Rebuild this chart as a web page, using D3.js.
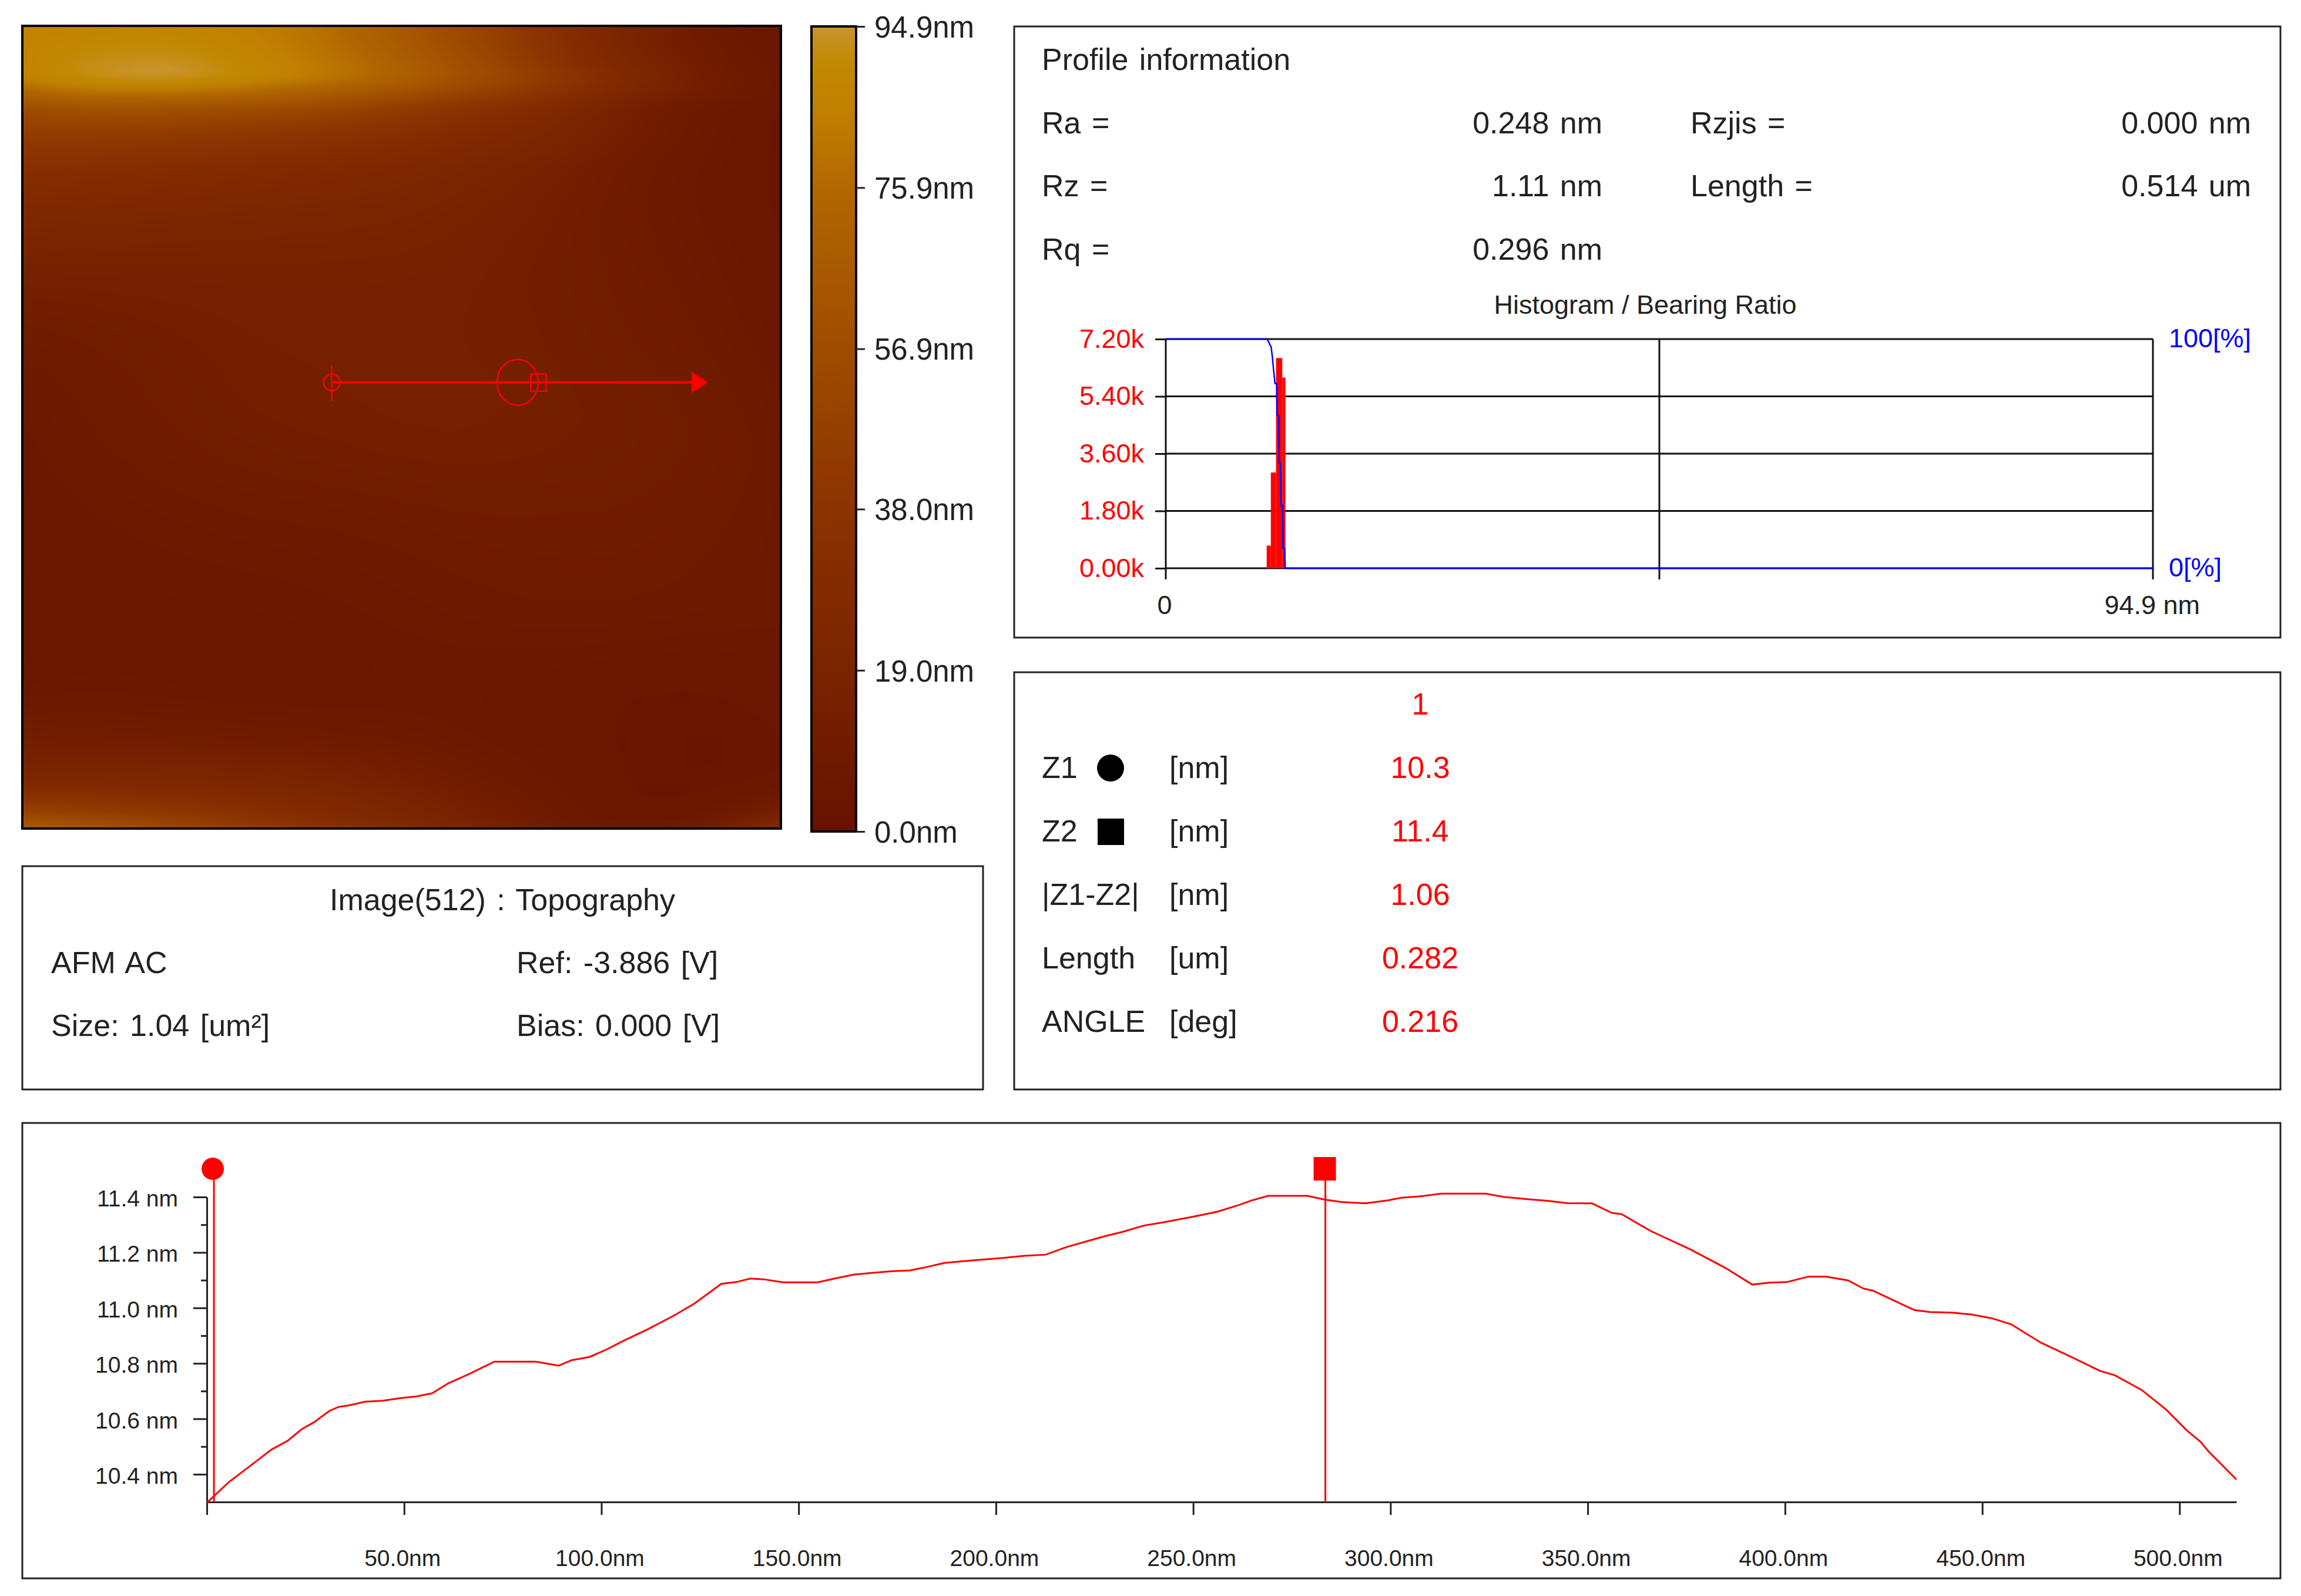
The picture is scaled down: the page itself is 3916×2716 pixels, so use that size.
<!DOCTYPE html>
<html>
<head>
<meta charset="utf-8">
<script src="https://cdn.jsdelivr.net/npm/d3@7"></script>
<style>
  body { margin: 0; background: #fff; }
  svg { display: block; }
  text { font-family: "Liberation Sans", Arial, sans-serif; }
</style>
</head>
<body>
<div id="vis"></div>
<script>
// colour bar: height in nm and the colour read at that height
const COLOR_NM = [0, 8, 19, 38, 56.9, 75.9, 85, 90, 93.5, 94.9];
const COLOR_HEX = ["#661200", "#6e1a00", "#7a2400", "#8c3300", "#a04c00", "#b26800", "#c08000", "#c28800", "#c68f1c", "#c9962e"];
const COLOR_TICKS = [0, 19, 38, 56.9, 75.9, 94.9];

// topography, read by eye: position along the scan and across it in nm, height in nm
const TOPO_X = [0, 103, 205, 308, 410, 513, 615, 718, 820, 922, 1020];
const TOPO_Y = [0, 22, 45, 63, 82, 104, 134, 179, 239, 313, 418, 522, 634, 746, 836, 910, 963, 1000, 1020];
const TOPO_Z = [
  [86, 88, 88, 85, 79, 65, 50, 33, 17, 8, 3],
  [88, 90, 91, 86, 80, 66, 52, 34, 18, 9, 4],
  [88, 93, 95, 88, 82, 70, 55, 37, 20, 10, 5],
  [88, 95, 97, 91, 84, 72, 58, 42, 24, 11, 6],
  [76, 84, 84, 78, 71, 62, 50, 39, 22, 12, 6],
  [57, 61, 59, 57, 53, 44, 34, 25, 12, 7, 3],
  [46, 46, 44, 42, 38, 33, 28, 22, 13, 7, 3],
  [33, 32, 30, 28, 26, 24, 19, 15, 9, 6, 3],
  [24, 23, 22, 21, 20, 19, 16, 13, 9, 6, 3],
  [15, 15, 15, 15, 15, 15, 14, 12, 10, 7, 4],
  [8, 10, 12, 14, 14, 14, 14, 13, 11, 9, 5],
  [6, 9, 11, 13, 14, 15, 15, 14, 13, 11, 8],
  [5, 6, 7, 8, 8, 9, 10, 10, 10, 9, 7],
  [4, 5, 5, 5, 6, 7, 8, 9, 9, 8, 7],
  [4, 5, 4, 4, 4, 5, 5, 4, 3, 3, 5],
  [12, 12, 11, 10, 9, 8, 6, 5, 3, 2, 3],
  [22, 23, 23, 21, 19, 15, 10, 6, 3, 2, 3],
  [52, 48, 42, 34, 27, 21, 14, 8, 3, 5, 14],
  [68, 60, 52, 44, 35, 26, 18, 10, 4, 10, 28]
];

// scan line drawn over the image, in image nm
const SCAN_START = 416;
const SCAN_END = 922;
const SCAN_Y = 453;
const SCAN_CIRCLE = 666;
const SCAN_SQUARE = 694;

// histogram bins
const HIST_FROM = [9.7, 10.1, 10.6, 11.2];
const HIST_TO = [10.1, 10.6, 11.2, 11.5];
const HIST_COUNT = [712, 3007, 6603, 5991];
const HIST_TICKS = [0, 1800, 3600, 5400, 7200];
const HIST_MAX_NM = 94.9;

// bearing ratio curve
const BEAR_NM = [0, 9.75, 9.9, 10.13, 10.24, 10.36, 10.5, 10.66, 10.7, 10.85, 10.9, 11.03, 11.08, 11.23, 11.26, 11.43, 11.48, 94.9];
const BEAR_PCT = [100, 100, 98.6, 96.5, 92.5, 86.7, 80.6, 80.6, 66.7, 66.7, 46, 46, 27.4, 27.4, 8.8, 8.8, 0, 0];

// line profile
const PROFILE_NM = [0.06, 5.6, 11.8, 16.5, 20.5, 24.1, 27.2, 31, 33.4, 35.9, 40.2, 44.5, 48.8, 53.2, 57.1, 61.2, 66.1, 72.9, 83.4, 89.2, 92.6, 97, 101.3, 105.7, 111.9, 118.6, 123.6, 130.4, 134.1, 137.8,
  141.2, 146.1, 154.8, 159.1, 164, 168.4, 173.3, 178.2, 182, 186.9, 191.2, 196.2, 201.7, 207.3, 212.6, 217.8, 222.7, 227.7, 232, 237.5, 242.5, 247.4, 252.4, 256.1, 261.6, 264.7, 269, 278.9, 283.2, 287.5, 293.7, 299.3, 303, 307.3, 312.9, 324, 328.9,
  334.8, 339.8, 344.8, 351.1, 356, 358.6, 366, 376, 384.8, 391.7, 396, 400.4, 406, 410.4, 416, 419.8, 422.3, 431, 432.9, 436.7, 442.3, 447.3, 452.3, 457.3, 464.8, 472.3, 479.8, 483.6, 490.4, 496.7, 501.7, 505.4, 507.3, 514.4];
const PROFILE_Z = [10.298, 10.372, 10.439, 10.49, 10.521, 10.563, 10.588, 10.628, 10.643, 10.648, 10.662, 10.665, 10.674, 10.681, 10.692, 10.728, 10.759, 10.806, 10.806, 10.792, 10.812, 10.823, 10.85, 10.882, 10.924, 10.974, 11.016, 11.087, 11.093, 11.106,
  11.103, 11.092, 11.092, 11.106, 11.12, 11.126, 11.132, 11.135, 11.146, 11.162, 11.168, 11.174, 11.18, 11.188, 11.192, 11.219, 11.239, 11.259, 11.274, 11.297, 11.309, 11.322, 11.336, 11.347, 11.371, 11.387, 11.404, 11.404, 11.391, 11.382, 11.377, 11.388, 11.398, 11.402, 11.412, 11.412, 11.4,
  11.392, 11.386, 11.378, 11.377, 11.343, 11.338, 11.277, 11.211, 11.145, 11.084, 11.091, 11.093, 11.113, 11.113, 11.099, 11.07, 11.062, 11.004, 10.992, 10.985, 10.983, 10.976, 10.963, 10.941, 10.875, 10.825, 10.773, 10.757, 10.704, 10.632, 10.56, 10.516, 10.483, 10.381];
const PROFILE_X_TICKS = [50, 100, 150, 200, 250, 300, 350, 400, 450, 500];
const PROFILE_Y_TICKS = [10.4, 10.6, 10.8, 11.0, 11.2, 11.4];
const PROFILE_Y_MINOR = [10.5, 10.7, 10.9, 11.1, 11.3];
const Z1_NM = 1.8;
const Z2_NM = 283.5;

// texts
const STAT_LABELS = ["Ra =", "Rz =", "Rq ="];
const STAT_VALUES = ["0.248 nm", "1.11 nm", "0.296 nm"];
const STAT2_LABELS = ["Rzjis =", "Length ="];
const STAT2_VALUES = ["0.000 nm", "0.514 um"];
const TABLE_LABELS = ["Z1", "Z2", "|Z1-Z2|", "Length", "ANGLE"];
const TABLE_UNITS = ["[nm]", "[nm]", "[nm]", "[um]", "[deg]"];
const TABLE_VALUES = ["10.3", "11.4", "1.06", "0.282", "0.216"];

const WIDTH = 3916;
const HEIGHT = 2716;
const INK = "#222";
const FONT = 52;
const FONT_BAR = 51;
const FONT_SMALL = 45;
const FONT_AXIS = 39;

const SVG = d3.select("#vis").append("svg")
  .attr("width", WIDTH)
  .attr("height", HEIGHT);

// frames of the panels
function panel(x0, y0, x1, y1) {
  SVG.append("rect")
    .attr("x", x0).attr("y", y0)
    .attr("width", x1 - x0).attr("height", y1 - y0)
    .attr("fill", "none")
    .attr("stroke", INK)
    .attr("stroke-width", 3);
}
panel(38, 1474, 1673, 1854);
panel(1726, 45, 3881, 1085);
panel(1726, 1144, 3881, 1854);
panel(38, 1911, 3881, 2686);

function label(txt, x, y, opts) {
  const o = opts || {};
  return SVG.append("text")
    .attr("x", x).attr("y", y).attr("dy", "0.32em")
    .attr("text-anchor", o.anchor || "start")
    .attr("font-size", o.size || FONT)
    .attr("word-spacing", o.size ? 0 : 4)
    .attr("fill", o.fill || INK)
    .text(txt);
}

// ---------- topography image ----------
const IMG = {x0: 38, x1: 1329, y0: 44, y1: 1410};
const IMG_X = d3.scaleLinear().domain([0, 1020]).range([IMG.x0, IMG.x1]);
const IMG_Y = d3.scaleLinear().domain([0, 1020]).range([IMG.y0, IMG.y1]);
const HEAT = d3.scaleLinear().domain(COLOR_NM).range(COLOR_HEX).clamp(true);

function topoImage() {
  const W = Math.round((IMG.x1 - IMG.x0) / 2);
  const H = Math.round((IMG.y1 - IMG.y0) / 2);
  const canvas = document.createElement("canvas");
  canvas.width = W;
  canvas.height = H;
  const ctx = canvas.getContext("2d");
  const pix = ctx.createImageData(W, H);

  const lut = d3.range(0, 950).map((i) => d3.rgb(HEAT(i / 10)));
  const rowT = d3.scaleLinear().domain(TOPO_Y).range(TOPO_Y.map((d, i) => i / (TOPO_Y.length - 1))).clamp(true);
  const colT = d3.scaleLinear().domain(TOPO_X).range(TOPO_X.map((d, i) => i / (TOPO_X.length - 1))).clamp(true);
  const curves = TOPO_X.map((d, j) => d3.interpolateBasis(TOPO_Z.map((r) => r[j])));

  for (let py = 0; py < H; py++) {
    const t = rowT(py / (H - 1) * 1020);
    const across = d3.interpolateBasis(curves.map((c) => c(t)));
    for (let px = 0; px < W; px++) {
      const z = across(colT(px / (W - 1) * 1020));
      const c = lut[Math.max(0, Math.min(949, Math.round(z * 10)))];
      const k = (py * W + px) * 4;
      pix.data[k] = c.r;
      pix.data[k + 1] = c.g;
      pix.data[k + 2] = c.b;
      pix.data[k + 3] = 255;
    }
  }
  ctx.putImageData(pix, 0, 0);

  SVG.append("image")
    .attr("x", IMG.x0).attr("y", IMG.y0)
    .attr("width", IMG.x1 - IMG.x0).attr("height", IMG.y1 - IMG.y0)
    .attr("preserveAspectRatio", "none")
    .attr("href", canvas.toDataURL());

  SVG.append("rect")
    .attr("x", IMG.x0).attr("y", IMG.y0)
    .attr("width", IMG.x1 - IMG.x0).attr("height", IMG.y1 - IMG.y0)
    .attr("fill", "none").attr("stroke", "#000").attr("stroke-width", 4);
}
topoImage();

// scan line overlay
const scanY = IMG_Y(SCAN_Y);
const overlay = SVG.append("g").attr("stroke", "#f00").attr("fill", "none");
overlay.append("line")
  .attr("x1", IMG_X(SCAN_START)).attr("x2", IMG_X(SCAN_END) - 20)
  .attr("y1", scanY).attr("y2", scanY)
  .attr("stroke-width", 4);
overlay.append("line")
  .attr("x1", IMG_X(SCAN_START)).attr("x2", IMG_X(SCAN_START))
  .attr("y1", scanY - 29).attr("y2", scanY + 32)
  .attr("stroke-width", 2.5);
overlay.append("circle")
  .attr("cx", IMG_X(SCAN_START)).attr("cy", scanY).attr("r", 14)
  .attr("stroke-width", 2.5);
overlay.append("ellipse")
  .attr("cx", IMG_X(SCAN_CIRCLE)).attr("cy", scanY)
  .attr("rx", 35).attr("ry", 39)
  .attr("stroke-width", 2.5);
overlay.append("rect")
  .attr("x", IMG_X(SCAN_SQUARE) - 13).attr("y", scanY - 14)
  .attr("width", 26).attr("height", 29)
  .attr("stroke-width", 2.5);
SVG.append("path")
  .attr("transform", "translate(" + IMG_X(SCAN_END) + "," + scanY + ")")
  .attr("d", "M-28,-18L0,0L-28,18Z")
  .attr("fill", "#f00");

// ---------- colour bar ----------
const BAR_Y = d3.scaleLinear().domain([0, 94.9]).range([1415, 45]);
const grad = SVG.append("defs").append("linearGradient")
  .attr("id", "bar-grad")
  .attr("x1", 0).attr("y1", 1).attr("x2", 0).attr("y2", 0);
grad.selectAll("stop")
  .data(COLOR_NM)
  .enter()
  .append("stop")
    .attr("offset", (d) => { return d / 94.9; })
    .attr("stop-color", (d, i) => { return COLOR_HEX[i]; });
SVG.append("rect")
  .attr("x", 1381).attr("y", BAR_Y(94.9))
  .attr("width", 76).attr("height", BAR_Y(0) - BAR_Y(94.9))
  .attr("fill", "url(#bar-grad)")
  .attr("stroke", "#000")
  .attr("stroke-width", 4);

const barAxis = SVG.append("g")
  .attr("transform", "translate(1457,0)")
  .call(d3.axisRight(BAR_Y).tickValues(COLOR_TICKS).tickSize(15).tickPadding(16)
    .tickFormat((d) => { return d.toFixed(1) + "nm"; }));
barAxis.select(".domain").remove();
barAxis.selectAll("line").attr("stroke", INK).attr("stroke-width", 3);
barAxis.selectAll("text").attr("font-size", FONT_BAR).attr("fill", INK).attr("dy", "0.36em");

// ---------- image info ----------
label("Image(512) : Topography", 855, 1532, {anchor: "middle"});
label("AFM AC", 87, 1639);
label("Ref: -3.886 [V]", 879, 1639);
label("Size: 1.04 [um²]", 87, 1746);
label("Bias: 0.000 [V]", 879, 1746);

// ---------- profile information ----------
label("Profile information", 1773, 102);
const STAT_Y = d3.scalePoint().domain(STAT_LABELS).range([210, 425]);
STAT_LABELS.forEach((d, i) => {
  label(d, 1773, STAT_Y(d));
  label(STAT_VALUES[i], 2727, STAT_Y(d), {anchor: "end"});
});
STAT2_LABELS.forEach((d, i) => {
  label(d, 2877, STAT_Y(STAT_LABELS[i]));
  label(STAT2_VALUES[i], 3831, STAT_Y(STAT_LABELS[i]), {anchor: "end"});
});

// ---------- histogram / bearing ratio ----------
label("Histogram / Bearing Ratio", 2800, 520, {anchor: "middle", size: FONT_SMALL});

const HIST_X = d3.scaleLinear().domain([0, HIST_MAX_NM]).range([1984, 3664]);
const HIST_Y = d3.scaleLinear().domain([0, 7200]).range([967, 577]);
const PCT_Y = d3.scaleLinear().domain([0, 100]).range([967, 577]);

const histAxis = SVG.append("g")
  .attr("transform", "translate(1984,0)")
  .call(d3.axisLeft(HIST_Y).tickValues(HIST_TICKS).tickSize(18).tickPadding(19)
    .tickFormat((d) => { return (d / 1000).toFixed(2) + "k"; }));
histAxis.select(".domain").remove();
histAxis.selectAll("line").attr("stroke", "#111").attr("stroke-width", 3);
histAxis.selectAll("text").attr("font-size", FONT_SMALL).attr("fill", "#f00");

// grid
SVG.selectAll("histGrid")
  .data(HIST_TICKS)
  .enter()
  .append("line")
    .attr("x1", HIST_X(0)).attr("x2", HIST_X(HIST_MAX_NM))
    .attr("y1", (d) => { return HIST_Y(d); })
    .attr("y2", (d) => { return HIST_Y(d); })
    .attr("stroke", "#111").attr("stroke-width", 3);
SVG.selectAll("histVert")
  .data([0, HIST_MAX_NM / 2, HIST_MAX_NM])
  .enter()
  .append("line")
    .attr("x1", (d) => { return HIST_X(d); })
    .attr("x2", (d) => { return HIST_X(d); })
    .attr("y1", HIST_Y(7200)).attr("y2", 986)
    .attr("stroke", "#111").attr("stroke-width", 3);

// bars
SVG.selectAll("histBars")
  .data(HIST_COUNT)
  .enter()
  .append("rect")
    .attr("x", (d, i) => { return HIST_X(HIST_FROM[i]); })
    .attr("width", (d, i) => { return HIST_X(HIST_TO[i]) - HIST_X(HIST_FROM[i]); })
    .attr("y", (d) => { return HIST_Y(d); })
    .attr("height", (d) => { return HIST_Y(0) - HIST_Y(d); })
    .attr("fill", "#f00");

// bearing ratio line
const bearLine = d3.line()
  .x((d, i) => { return HIST_X(BEAR_NM[i]); })
  .y((d) => { return PCT_Y(d); });
SVG.append("path")
  .attr("d", bearLine(BEAR_PCT))
  .attr("fill", "none")
  .attr("stroke", "#00f")
  .attr("stroke-width", 2.5);

label("100[%]", 3691, PCT_Y(100), {size: FONT_SMALL, fill: "#00f"});
label("0[%]", 3691, PCT_Y(0), {size: FONT_SMALL, fill: "#00f"});
label("0", 1982, 1031, {anchor: "middle", size: FONT_SMALL});
label("94.9 nm", 3744, 1031, {anchor: "end", size: FONT_SMALL});

// ---------- cursor table ----------
label("1", 2417, 1199, {anchor: "middle", fill: "#f00"});
const TABLE_Y = d3.scalePoint().domain(TABLE_LABELS).range([1307, 1739]);
TABLE_LABELS.forEach((d, i) => {
  label(d, 1773, TABLE_Y(d));
  label(TABLE_UNITS[i], 1990, TABLE_Y(d));
  label(TABLE_VALUES[i], 2417, TABLE_Y(d), {anchor: "middle", fill: "#f00"});
});
SVG.append("circle")
  .attr("cx", 1890).attr("cy", TABLE_Y("Z1")).attr("r", 23)
  .attr("fill", "#000");
SVG.append("rect")
  .attr("x", 1868).attr("y", TABLE_Y("Z2") - 22)
  .attr("width", 45).attr("height", 45)
  .attr("fill", "#000");

// ---------- line profile ----------
const PROF_X = d3.scaleLinear().domain([0, 514.4]).range([352, 3806]);
const PROF_Y = d3.scaleLinear().domain([10.3, 11.4]).range([2556, 2037]);

const yMinor = SVG.append("g")
  .attr("transform", "translate(352,0)")
  .call(d3.axisLeft(PROF_Y).tickValues(PROFILE_Y_MINOR).tickSize(10).tickFormat(""));
yMinor.select(".domain").remove();
yMinor.selectAll("line").attr("stroke", INK).attr("stroke-width", 3);

const yAxis = SVG.append("g")
  .attr("transform", "translate(352,0)")
  .call(d3.axisLeft(PROF_Y).tickValues(PROFILE_Y_TICKS).tickSize(23).tickSizeOuter(0).tickPadding(26)
    .tickFormat((d) => { return d.toFixed(1) + " nm"; }));
yAxis.select(".domain").attr("stroke", INK).attr("stroke-width", 3);
yAxis.selectAll("line").attr("stroke", INK).attr("stroke-width", 3);
yAxis.selectAll("text").attr("font-size", FONT_AXIS).attr("fill", INK).attr("dy", "0.4em");

const xAxis = SVG.append("g")
  .attr("transform", "translate(0,2556)")
  .call(d3.axisBottom(PROF_X).tickValues([0].concat(PROFILE_X_TICKS)).tickSize(22).tickSizeOuter(0).tickPadding(59)
    .tickFormat((d) => { return d === 0 ? "" : d.toFixed(1) + "nm"; }));
xAxis.select(".domain").attr("stroke", INK).attr("stroke-width", 3);
xAxis.selectAll("line").attr("stroke", INK).attr("stroke-width", 3);
xAxis.selectAll("text").attr("font-size", FONT_AXIS).attr("fill", INK).attr("dx", -3);

// the profile itself
const profLine = d3.line()
  .x((d, i) => { return PROF_X(PROFILE_NM[i]); })
  .y((d) => { return PROF_Y(d); });
SVG.append("path")
  .attr("d", profLine(PROFILE_Z))
  .attr("fill", "none")
  .attr("stroke", "#f00")
  .attr("stroke-width", 3);

// Z1 and Z2 cursors
SVG.append("line")
  .attr("x1", PROF_X(Z1_NM)).attr("x2", PROF_X(Z1_NM))
  .attr("y1", 2000).attr("y2", 2556)
  .attr("stroke", "#f00").attr("stroke-width", 3);
SVG.append("circle")
  .attr("cx", PROF_X(Z1_NM) - 2).attr("cy", 1989).attr("r", 19)
  .attr("fill", "#f00");
SVG.append("line")
  .attr("x1", PROF_X(Z2_NM)).attr("x2", PROF_X(Z2_NM))
  .attr("y1", 2000).attr("y2", 2556)
  .attr("stroke", "#f00").attr("stroke-width", 3);
SVG.append("rect")
  .attr("x", PROF_X(Z2_NM) - 20).attr("y", 1969)
  .attr("width", 38).attr("height", 40)
  .attr("fill", "#f00");
</script>
</body>
</html>
